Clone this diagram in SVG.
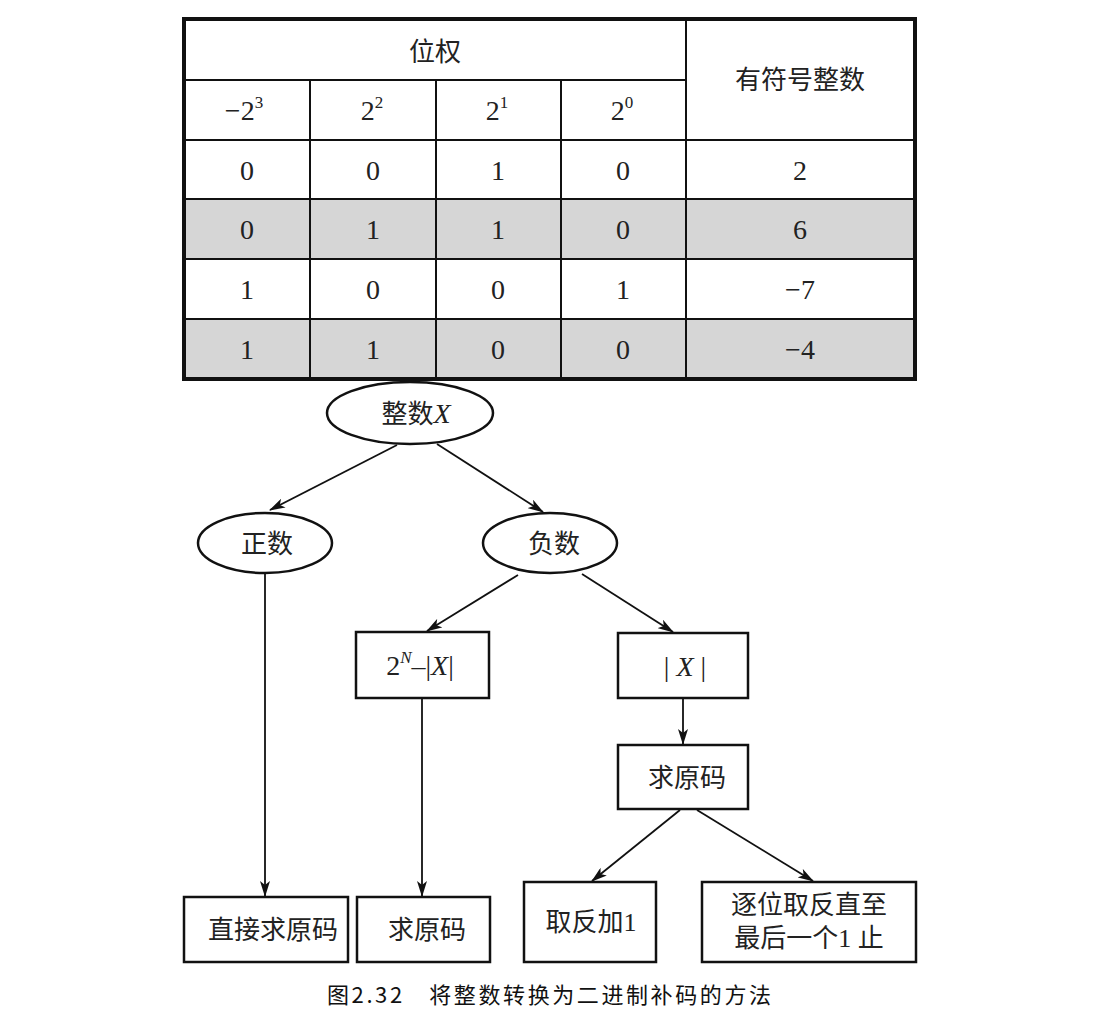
<svg xmlns="http://www.w3.org/2000/svg" width="1114" height="1026" viewBox="0 0 1114 1026">
<style>
.cell{font-family:"Liberation Serif","Noto Sans CJK SC",serif;font-size:28px;fill:#222;text-anchor:middle}
.cjk{font-family:"Liberation Serif","Noto Sans CJK SC",serif;font-size:26px;fill:#222;text-anchor:middle}
.lat{font-family:"Liberation Serif",serif;font-size:28px;fill:#222;text-anchor:middle}
.it{font-style:italic;font-family:"Liberation Serif",serif;font-size:28px}
.sup{font-size:17px}
.shape{fill:#fff;stroke:#111;stroke-width:2.5}
.grid{stroke:#111;stroke-width:2;fill:none}
.conn{stroke:#111;stroke-width:1.8;fill:none;marker-end:url(#arr)}
.cap{font-family:"Noto Sans CJK SC",sans-serif;font-size:22px;fill:#111}
</style>
<defs>
<marker id="arr" viewBox="0 0 16 10" refX="15" refY="5" markerWidth="16" markerHeight="10" markerUnits="userSpaceOnUse" orient="auto">
<path d="M0,0 L16,5 L0,10 L4,5 z" fill="#111"/>
</marker>
</defs>
<rect width="1114" height="1026" fill="#fff"/>
<g id="table">
<rect x="184" y="199" width="731" height="60" fill="#d6d6d6"/>
<rect x="184" y="319" width="731" height="60" fill="#d6d6d6"/>
<line class="grid" x1="184" y1="80" x2="686" y2="80"/>
<line class="grid" x1="184" y1="140" x2="915" y2="140"/>
<line class="grid" x1="184" y1="199" x2="915" y2="199"/>
<line class="grid" x1="184" y1="259" x2="915" y2="259"/>
<line class="grid" x1="184" y1="319" x2="915" y2="319"/>
<line class="grid" x1="310" y1="80" x2="310" y2="379"/>
<line class="grid" x1="436" y1="80" x2="436" y2="379"/>
<line class="grid" x1="561" y1="80" x2="561" y2="379"/>
<line class="grid" x1="686" y1="19" x2="686" y2="379"/>
<rect x="184" y="19" width="731" height="360" fill="none" stroke="#111" stroke-width="4"/>
<text class="cjk" x="435" y="61">位权</text>
<text class="cjk" x="800" y="89">有符号整数</text>
<text class="cell" x="244" y="120">−2<tspan class="sup" dy="-12">3</tspan></text>
<text class="cell" x="372" y="120">2<tspan class="sup" dy="-12">2</tspan></text>
<text class="cell" x="497" y="120">2<tspan class="sup" dy="-12">1</tspan></text>
<text class="cell" x="622" y="120">2<tspan class="sup" dy="-12">0</tspan></text>
<text class="cell" x="247" y="180">0</text><text class="cell" x="373" y="180">0</text><text class="cell" x="498" y="180">1</text><text class="cell" x="623" y="180">0</text><text class="cell" x="800" y="180">2</text>
<text class="cell" x="247" y="239">0</text><text class="cell" x="373" y="239">1</text><text class="cell" x="498" y="239">1</text><text class="cell" x="623" y="239">0</text><text class="cell" x="800" y="239">6</text>
<text class="cell" x="247" y="299">1</text><text class="cell" x="373" y="299">0</text><text class="cell" x="498" y="299">0</text><text class="cell" x="623" y="299">1</text><text class="cell" x="800" y="299">−7</text>
<text class="cell" x="247" y="359">1</text><text class="cell" x="373" y="359">1</text><text class="cell" x="498" y="359">0</text><text class="cell" x="623" y="359">0</text><text class="cell" x="800" y="359">−4</text>
</g>
<g id="connectors">
<line class="conn" x1="397" y1="445" x2="270" y2="510"/>
<line class="conn" x1="437" y1="444" x2="543" y2="512"/>
<line class="conn" x1="265" y1="573" x2="265" y2="896"/>
<line class="conn" x1="518" y1="575" x2="427" y2="631"/>
<line class="conn" x1="582" y1="574" x2="673" y2="632"/>
<line class="conn" x1="422" y1="698" x2="422" y2="896"/>
<line class="conn" x1="683" y1="698" x2="683" y2="744"/>
<line class="conn" x1="680" y1="810" x2="592" y2="881"/>
<line class="conn" x1="697" y1="810" x2="813" y2="881"/>
</g>
<g id="node-integer">
<ellipse class="shape" cx="410" cy="413" rx="83" ry="31"/>
<text class="cjk" x="416" y="423">整数<tspan class="it">X</tspan></text>
</g>
<g id="node-positive">
<ellipse class="shape" cx="265" cy="543" rx="67" ry="30"/>
<text class="cjk" x="267" y="553">正数</text>
</g>
<g id="node-negative">
<ellipse class="shape" cx="550" cy="543" rx="67" ry="30"/>
<text class="cjk" x="554" y="553">负数</text>
</g>
<g id="node-2n">
<rect class="shape" x="356" y="632" width="133" height="66"/>
<text class="lat" x="420" y="675">2<tspan class="it sup" dy="-12">N</tspan><tspan dy="12">–|</tspan><tspan class="it">X</tspan>|</text>
</g>
<g id="node-absx">
<rect class="shape" x="618" y="633" width="130" height="65"/>
<text class="lat" x="685" y="676">| <tspan class="it">X</tspan> |</text>
</g>
<g id="node-yuan-mid">
<rect class="shape" x="618" y="745" width="130" height="64"/>
<text class="cjk" x="687" y="787">求原码</text>
</g>
<g id="node-qufan">
<rect class="shape" x="524" y="882" width="132" height="80"/>
<text class="cjk" x="591" y="931">取反加1</text>
</g>
<g id="node-zhuwei">
<rect class="shape" x="702" y="882" width="214" height="80"/>
<text class="cjk" x="809" y="914">逐位取反直至</text>
<text class="cjk" x="809" y="947">最后一个1 止</text>
</g>
<g id="node-zhijie">
<rect class="shape" x="184" y="897" width="164" height="65"/>
<text class="cjk" x="273" y="939">直接求原码</text>
</g>
<g id="node-yuan-bot">
<rect class="shape" x="357" y="897" width="133" height="65"/>
<text class="cjk" x="427" y="939">求原码</text>
</g>
<text class="cap" x="327" y="1003" textLength="444" lengthAdjust="spacing">图2.32　将整数转换为二进制补码的方法</text>
</svg>
